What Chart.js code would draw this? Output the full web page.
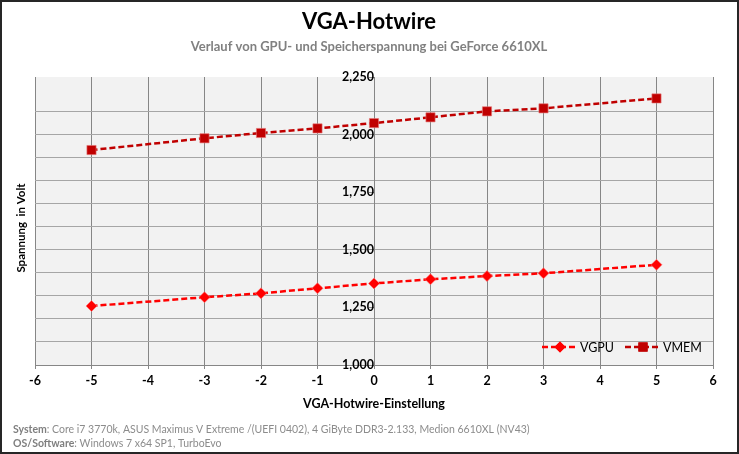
<!DOCTYPE html>
<html><head><meta charset="utf-8">
<script src="https://cdn.jsdelivr.net/npm/chart.js@4.4.1/dist/chart.umd.min.js"></script>
<style>html,body{margin:0;padding:0;background:#fff}#wrap{width:739px;height:454px;position:relative}</style>
</head><body><div id="wrap"><canvas id="c" width="739" height="454"></canvas></div>
<script>
const xValues = [-5, -3, -2, -1, 0, 1, 2, 3, 5];
const vgpu = [1256, 1294, 1311, 1333, 1354, 1372, 1386, 1398, 1435];
const vmem = [1933, 1984, 2007, 2027, 2050, 2075, 2101, 2114, 2157];
const yTickLabels = ['1,000', '1,250', '1,500', '1,750', '2,000', '2,250'];
const xTickLabels = ['-6','-5','-4','-3','-2','-1','0','1','2','3','4','5','6'];
const seriesNames = ['VGPU', 'VMEM'];
const titleText = 'VGA-Hotwire';
const subtitleText = 'Verlauf von GPU- und Speicherspannung bei GeForce 6610XL';
const footerLines = [['System', ': Core i7 3770k, ASUS Maximus V Extreme /(UEFI 0402), 4 GiByte DDR3-2.133, Medion 6610XL (NV43)'],
                     ['OS/Software', ': Windows 7 x64 SP1, TurboEvo']];

const FONT = 'Lato, "Open Sans", sans-serif';
const colors = ['#ff0000', '#c00000'];

const toPts = (arr) => xValues.map((x, i) => ({x, y: arr[i]}));

const decor = {
  id: 'decor',
  beforeDraw(chart) {
    const {ctx, chartArea: a} = chart;
    ctx.save();
    ctx.fillStyle = '#f2f2f2';
    ctx.fillRect(a.left, a.top, a.right - a.left, a.bottom - a.top);
    ctx.restore();
  },
  afterDraw(chart) {
    const {ctx} = chart;
    ctx.save();
    ctx.textAlign = 'center'; ctx.textBaseline = 'middle';
    ctx.fillStyle = '#000';
    ctx.font = 'bold 22px ' + FONT;
    ctx.fillText(titleText, 369, 22);
    ctx.fillStyle = '#808080';
    ctx.font = 'bold 13px ' + FONT;
    ctx.fillText(subtitleText, 369, 47);
    ctx.save();
    ctx.translate(21, 228);
    ctx.rotate(-Math.PI / 2);
    ctx.fillStyle = '#000';
    ctx.font = 'bold 11.5px ' + FONT;
    ctx.fillText('Spannung  in Volt', 0, 0);
    ctx.restore();
    ctx.textAlign = 'left';
    footerLines.forEach((ln, i) => {
      const y = 430 + i * 13.5;
      ctx.font = 'bold 10.5px ' + FONT;
      ctx.fillStyle = '#7f7f7f';
      ctx.fillText(ln[0], 13, y);
      const w = ctx.measureText(ln[0]).width;
      ctx.font = '10.5px ' + FONT;
      ctx.fillStyle = '#8c8c8c';
      ctx.fillText(ln[1], 13 + w, y);
    });
    const ly = 347;
    const items = [{x: 542, style: 'rectRot', r: 5.5}, {x: 625, style: 'rect', r: 6.5}];
    items.forEach((it, i) => {
      ctx.strokeStyle = colors[i]; ctx.lineWidth = 2.5; ctx.setLineDash([6, 3]);
      ctx.beginPath(); ctx.moveTo(it.x, ly); ctx.lineTo(it.x + 36, ly); ctx.stroke();
      ctx.setLineDash([]);
      ctx.fillStyle = colors[i];
      Chart.helpers.drawPoint(ctx, {pointStyle: it.style, radius: it.r, borderWidth: 0}, it.x + 18, ly);
      ctx.fill();
      ctx.fillStyle = '#000';
      ctx.font = '12.5px ' + FONT;
      ctx.textBaseline = 'middle';
      ctx.fillText(seriesNames[i], it.x + 38, ly + 1);
    });
    ctx.strokeStyle = '#262626'; ctx.lineWidth = 2;
    ctx.strokeRect(1, 1, 737, 452);
    ctx.restore();
  }
};

new Chart(document.getElementById('c'), {
  type: 'line',
  data: {
    datasets: [
      {label: seriesNames[0], data: toPts(vgpu), borderColor: colors[0], backgroundColor: colors[0],
       borderWidth: 2.5, borderDash: [6, 3], pointStyle: 'rectRot', pointRadius: 5.5,
       pointBorderColor: 'rgba(255,120,120,0.6)', pointBorderWidth: 1, pointBackgroundColor: colors[0], yAxisID: 'y'},
      {label: seriesNames[1], data: toPts(vmem), borderColor: colors[1], backgroundColor: colors[1],
       borderWidth: 2.5, borderDash: [6, 3], pointStyle: 'rect', pointRadius: 6.5,
       pointBorderColor: 'rgba(230,120,120,0.6)', pointBorderWidth: 1, pointBackgroundColor: colors[1], yAxisID: 'y'}
    ]
  },
  options: {
    responsive: false, animation: false,
    layout: {padding: {left: 35, right: 26, top: 77, bottom: 0}},
    plugins: {legend: {display: false}, tooltip: {enabled: false}, title: {display: false}},
    scales: {
      x: {
        type: 'linear', min: -6, max: 6,
        ticks: {stepSize: 1, color: '#000', font: {family: FONT, size: 12.5, weight: 'bold'}, padding: 4,
                callback: (v) => xTickLabels[v + 6]},
        grid: {color: '#868686', lineWidth: 1, tickLength: 4, tickColor: '#868686'},
        border: {color: '#868686', width: 1},
        title: {display: true, text: 'VGA-Hotwire-Einstellung', color: '#000',
                font: {family: FONT, size: 12.5, weight: 'bold'}, padding: {top: 4, bottom: 43}}
      },
      y: {
        type: 'linear', min: 1000, max: 2250, position: 'left',
        ticks: {stepSize: 100, display: false},
        grid: {color: (c) => c.tick && c.tick.value > 2200 ? 'rgba(0,0,0,0)' : '#a6a6a6', lineWidth: 1, drawTicks: false},
        border: {display: false}
      },
      yl: {
        type: 'linear', min: 1000, max: 2250, position: {x: 0},
        ticks: {stepSize: 250, color: '#000', font: {family: FONT, size: 12.5, weight: 'bold'}, padding: 3,
                callback: (v) => yTickLabels[(v - 1000) / 250]},
        grid: {drawOnChartArea: false, tickLength: 5, tickColor: '#868686'},
        border: {color: '#868686', width: 1}
      }
    }
  },
  plugins: [decor]
});
</script>
</body></html>
